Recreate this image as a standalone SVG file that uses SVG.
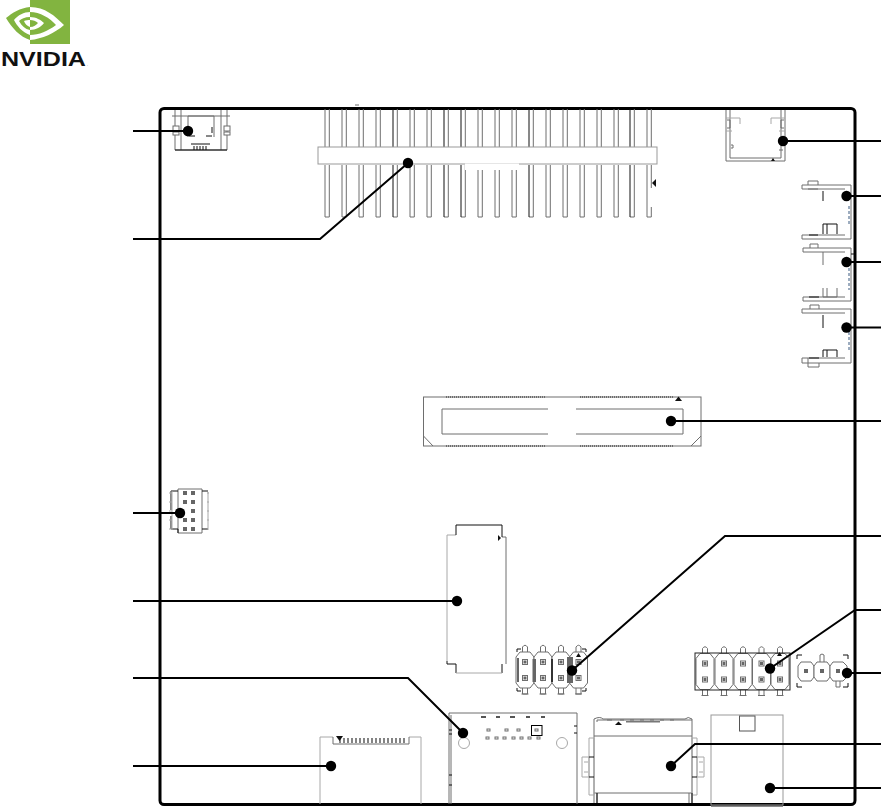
<svg xmlns="http://www.w3.org/2000/svg" xmlns:xlink="http://www.w3.org/1999/xlink" width="881" height="809" viewBox="0 0 881 809">
<style>
.g{fill:none;stroke:#6e6e6e;stroke-width:1}
.l{fill:none;stroke:#a8a8a8;stroke-width:1}
.d{fill:none;stroke:#111;stroke-width:1}
.w{fill:#fff;stroke:#6e6e6e;stroke-width:1}
.k{fill:#111;stroke:none}
.p{fill:#666;stroke:none}
.c{fill:none;stroke:#000;stroke-width:2;marker-end:url(#dot)}
.logo{fill:#82b440}
</style>
<defs>
<marker id="dot" markerUnits="userSpaceOnUse" markerWidth="12" markerHeight="12" refX="6" refY="6"><circle cx="6" cy="6" r="5.2" fill="#000"/></marker>
<g id="pin"><path class="g" d="M0 109V147M4.300 109V147M0 165V217H4.300V165"/></g>
<g id="pinD"><path class="g" d="M4.300 109V147M4.300 165V217H0"/><path class="d" d="M0 109V147M0 165V217"/></g>
<g id="hcell"><path class="w" d="M-9 -13L-5 -18H5L9 -13V13L5 18H-5L-9 13Z"/><path class="g" d="M-2.500 -18V-23Q0 -26.500 2.500 -23V-18M-2.500 18V24H2.500V18M-3.500 24H3.500"/><rect x="-2.500" y="-10.500" width="5" height="5" class="g"/><rect x="-1.500" y="-9.500" width="3" height="3" class="p"/><rect x="-2.500" y="5.500" width="5" height="5" class="g"/><rect x="-1.500" y="6.500" width="3" height="3" class="p"/></g>
</defs>
<rect width="881" height="809" fill="#fff"/>

<g id="logo">
<rect class="logo" x="30" y="0" width="40" height="44"/>
<path fill="#fff" d="M30 7C45 7 55 16 64 25C55 33 42 39 30 40V35C39 35 48 31 56 25C50 18 40 12 30 12ZM30 17C36 17 41 20 44 23C41 27 36 30 30 30V27C34 27 36 25 38 23C36 21 33 20 30 20Z"/>
<path class="logo" d="M30 7C20 8 12 13 6 18C12 28 20 37 30 40V35C22 32 17 26 14 20C18 15 24 12 30 12ZM30 17C25 17 21 19 19 21C22 26 25 29 30 30V27C27 26 25 24 24 21C26 20 28 20 30 20Z"/>
<text x="1" y="66" font-family="'Liberation Sans',Arial,sans-serif" font-weight="700" font-size="20" textLength="85" lengthAdjust="spacingAndGlyphs" fill="#111">NVIDIA</text>
<text x="87" y="66" font-family="'Liberation Sans',Arial,sans-serif" font-size="3" fill="#111">.</text>
</g>

<g id="board"><rect x="160" y="108.500" width="695" height="696" rx="4" fill="none" stroke="#000" stroke-width="3"/></g>

<g id="usb-top-left">
<path class="g" d="M172 116H230M175 110V150H227V110M181 110V150M221 110V150M188 116V137M188 116H214V137"/>
<rect class="w" x="173" y="126" width="6" height="5"/><rect class="w" x="173" y="132" width="6" height="3"/><rect class="w" x="224" y="126" width="6" height="5"/><rect class="w" x="224" y="132" width="6" height="3"/>
<path class="d" d="M175 150H227M189 136H195M206 136H212M212 127V133M191 144H210M194 146V150M197 146V150M200 146V150M203 146V150M206 146V150"/>
</g>

<g id="pin-header">
<use xlink:href="#pin" x="325"/><use xlink:href="#pin" x="342"/><use xlink:href="#pin" x="359"/><use xlink:href="#pin" x="376"/><use xlink:href="#pinD" x="393"/><use xlink:href="#pin" x="410"/><use xlink:href="#pin" x="427"/><use xlink:href="#pinD" x="444"/><use xlink:href="#pinD" x="461"/><use xlink:href="#pin" x="478"/><use xlink:href="#pin" x="495"/><use xlink:href="#pin" x="512"/><use xlink:href="#pinD" x="529"/><use xlink:href="#pin" x="546"/><use xlink:href="#pin" x="563"/><use xlink:href="#pin" x="580"/><use xlink:href="#pin" x="597"/><use xlink:href="#pin" x="614"/><use xlink:href="#pinD" x="630"/><use xlink:href="#pin" x="647"/>
<rect x="318" y="147" width="339" height="17" fill="#fff" stroke="#999" stroke-width="1"/>
<rect x="465" y="163.500" width="54" height="6.500" fill="#fff"/>
<path class="k" d="M652 183L656 179V187Z"/>
<rect x="650" y="188" width="7" height="19" fill="#fff"/>
<path class="g" d="M355 105H359"/>
</g>

<g id="usb-top-right">
<path class="g" d="M726 110V161H785V110M730 110V158M781 110V158M730 158H781"/>
<path class="l" d="M726 118H740V124M785 118H771V124M726 131H732M785 131H779"/>
<path class="g" d="M727 120H730V128H727M784 120H781V128H784M731 145H733V148H731M779 150H783"/>
<path class="k" d="M771 161L775 161L773 158Z"/>
</g>

<g id="conn-a">
<path class="g" d="M802 185H851V239H802V235H845M802 185V189H845M808 185V181H818V185M808 189L818 189"/>
<path class="d" d="M823 191V201M823 234V224H837V234M827 224V234M809 235H818"/>
<path d="M849 206V226" stroke="#3a5a80" stroke-width="1" stroke-dasharray="3 2" fill="none"/>
</g>
<g id="conn-b">
<path class="g" d="M803 248H851V301H803V297H845M803 248V252H845M810 248V244H818V248M823 252V265M823 288V297H837V288M827 288V297"/>
<path d="M849 268V290" stroke="#3a5a80" stroke-width="1" stroke-dasharray="3 2" fill="none"/>
<path class="d" d="M851 254H854M809 297H819"/>
</g>
<g id="conn-c">
<path class="g" d="M802 309H851V363H802V358H845M802 309V313H845M810 309V305H819V309M808 358V363M808 363V367H819V363"/>
<path class="d" d="M823 315V328M823 357V350H837V357M827 350V357M809 358H819"/>
<path d="M849 332V352" stroke="#3a5a80" stroke-width="1" stroke-dasharray="3 2" fill="none"/>
</g>

<g id="m2-slot">
<rect class="g" x="423.500" y="397" width="277.500" height="49"/>
<path class="g" d="M548 409H442V434H548M576 409H683V434H576M423.500 436L433 446M701 436L691 446"/>
<path d="M446 397H545M580 397H673M446 446H545M580 446H673" stroke="#222" stroke-width="1" stroke-dasharray="1 1" fill="none"/>
<path class="k" d="M675 401H682L678.500 396.500Z"/>
</g>

<g id="small-connector">
<path class="g" d="M178 489H202V533H178Z"/>
<path class="d" d="M178 491H171V510M178 533V529H171V516M202 491H208M202 529H208"/>
<path class="l" d="M169 493H172M169 502H172M169 511H172M169 520H172M169 529H172M207 493H209M207 502H209M207 511H209M207 520H209M207 529H209M172 491V530M208 492V528"/>
<rect class="p" x="183" y="491" width="4" height="4"/><rect class="p" x="191" y="491" width="4" height="4"/><rect class="p" x="183" y="500" width="4" height="4"/><rect class="p" x="191" y="500" width="4" height="4"/><rect class="p" x="191" y="509" width="4" height="4"/><rect class="p" x="183" y="518" width="4" height="4"/><rect class="p" x="191" y="518" width="4" height="4"/><rect class="p" x="183" y="527" width="4" height="4"/><rect class="p" x="191" y="527" width="4" height="4"/>
</g>

<g id="tall-slot">
<path class="l" d="M456 535H447V661H447"/>
<path class="g" d="M502 537H506V664"/>
<path class="d" d="M456 535V525H502V537M447 661V664H456V673M502 664V673"/>
<path class="l" d="M456 673H502"/>
<path class="k" d="M498 535L501 538L498 541Z"/>
</g>

<g id="header-8">
<path class="d" d="M517 652V649H521M586 652V649H582M517 688V691H521M586 688V691H582"/>
<use xlink:href="#hcell" x="525" y="670"/><use xlink:href="#hcell" x="543" y="670"/><use xlink:href="#hcell" x="561" y="670"/><use xlink:href="#hcell" x="578.500" y="670"/>
<rect x="517" y="658" width="2" height="24" class="p"/><rect x="532.500" y="659" width="3.500" height="23" class="p"/><rect x="551" y="659" width="2" height="23" fill="#333"/><rect x="567" y="657" width="6" height="26" class="p"/>
<path class="k" d="M576 657H581L578.500 653Z"/>
</g>

<g id="header-10">
<use xlink:href="#hcell" x="705" y="671.500"/><use xlink:href="#hcell" x="724" y="671.500"/><use xlink:href="#hcell" x="743" y="671.500"/><use xlink:href="#hcell" x="761.500" y="671.500"/><use xlink:href="#hcell" x="780" y="671.500"/>
<rect x="695" y="653" width="95" height="37" fill="none" stroke="#222" stroke-width="1"/>
<path class="k" d="M777 656H782L779.500 652Z"/>
</g>

<g id="header-3">
<path class="d" d="M797 659V655H802M848 659V655H843M797 683V687H802M848 683V687H843"/>
<path class="w" d="M798 666L801 662H811L814 666V677L811 681H801L798 677Z"/><path class="w" d="M814 666L817 662H827L830 666V677L827 681H817L814 677Z"/><path class="w" d="M830 666L833 662H843L847 666V677L843 681H833L830 677Z"/>
<path class="g" d="M820 662V655Q822 653 824 655V662M836 681V687H840V681"/>
<rect x="804" y="669" width="4" height="4" class="p"/><rect x="820" y="669" width="4" height="4" class="p"/><rect x="836" y="669" width="4" height="4" class="p"/>
</g>

<g id="card-slot">
<path class="l" d="M320 804V737H333M421 804V737H409"/>
<path class="g" d="M333 737V744H409V737"/>
<path d="M340 743V738M344 743V738M348 743V738M352 743V738M356 743V738M360 743V738M364 743V738M368 743V738M372 743V738M376 743V738M380 743V738M384 743V738M388 743V738M392 743V738M396 743V738M400 743V738M404 743V738" stroke="#333" stroke-width="1.200" fill="none"/>
<path class="k" d="M336 736H343L339.500 741Z"/>
</g>

<g id="ethernet">
<path class="g" d="M449 804V713H577V804M451 804V715"/>
<path class="d" d="M449 730H452M449 734H452M449 775H452M449 785H452M574 726H577M574 733H577"/>
<g class="l"><circle cx="464" cy="743" r="5.500"/><circle cx="562" cy="743" r="5.500"/></g>
<rect x="531.500" y="725.500" width="10.500" height="10" fill="none" stroke="#000" stroke-width="1"/>
<rect class="g" x="535" y="729" width="3" height="2"/>
<g fill="#555"><rect x="481" y="716" width="5" height="2"/><rect x="496" y="716" width="4" height="2"/><rect x="510" y="716" width="5" height="2"/><rect x="526" y="716" width="4" height="2"/><rect x="541" y="716" width="4" height="2"/></g>
<g class="g"><rect x="487" y="729" width="3" height="2"/><rect x="505" y="729" width="3" height="2"/><rect x="517" y="729" width="3" height="2"/><rect x="486" y="737" width="3" height="2"/><rect x="495" y="737" width="3" height="2"/><rect x="503" y="737" width="3" height="2"/><rect x="512" y="737" width="3" height="2"/><rect x="520" y="737" width="3" height="2"/><rect x="528" y="737" width="3" height="2"/><rect x="537" y="737" width="3" height="2"/></g>
</g>

<g id="hdmi">
<path class="g" d="M594 803V719Q600 716 603 719H685Q688 716 692 719V803M594 736H692M594 793H692M597 803V793M689 803V793"/>
<path class="l" d="M589 738H594V795H589ZM692 738H697V795H692ZM582 757H589V777H582ZM697 757H704V777H697ZM584 762H588M584 772H588M699 762H703M699 772H703"/>
<path class="d" d="M589 757H594M589 777H594M692 757H697M692 777H697M692 793V803M597 793V803"/>
<path class="g" d="M597 722V720H692M607 720H612M620 720H624M630 720H634M640 720H644M650 720H654M660 720H664M670 720H674"/>
<rect x="626" y="721" width="34" height="1.500" fill="#777"/>
<path class="k" d="M615 725H622L618.500 721.500Z"/>
</g>

<g id="power-block">
<rect x="711" y="715" width="72" height="90" fill="none" stroke="#999" stroke-width="1"/>
<path d="M711 806H783" stroke="#666" stroke-width="1.500"/>
<rect x="739.500" y="716" width="15.500" height="15" fill="#fff" stroke="#555" stroke-width="1"/>
</g>

<g id="connectors">
<path class="c" d="M133 131H188"/>
<path class="c" d="M133 239H320L408 163"/>
<path class="c" d="M133 513H180"/>
<path class="c" d="M133 601H457"/>
<path class="c" d="M133 678H408L463 733"/>
<path class="c" d="M133 766H331"/>
<path class="c" d="M881 141H783"/>
<path class="c" d="M881 196H846.500"/>
<path class="c" d="M881 262H846.500"/>
<path class="c" d="M881 327.500H846.500"/>
<path class="c" d="M881 421H671"/>
<path class="c" d="M881 536H725L572 670.500"/>
<path class="c" d="M881 610H855L770 668.500"/>
<path class="c" d="M881 673H847"/>
<path class="c" d="M881 744H695L671 766"/>
<path class="c" d="M881 788H770"/>
</g>
</svg>
